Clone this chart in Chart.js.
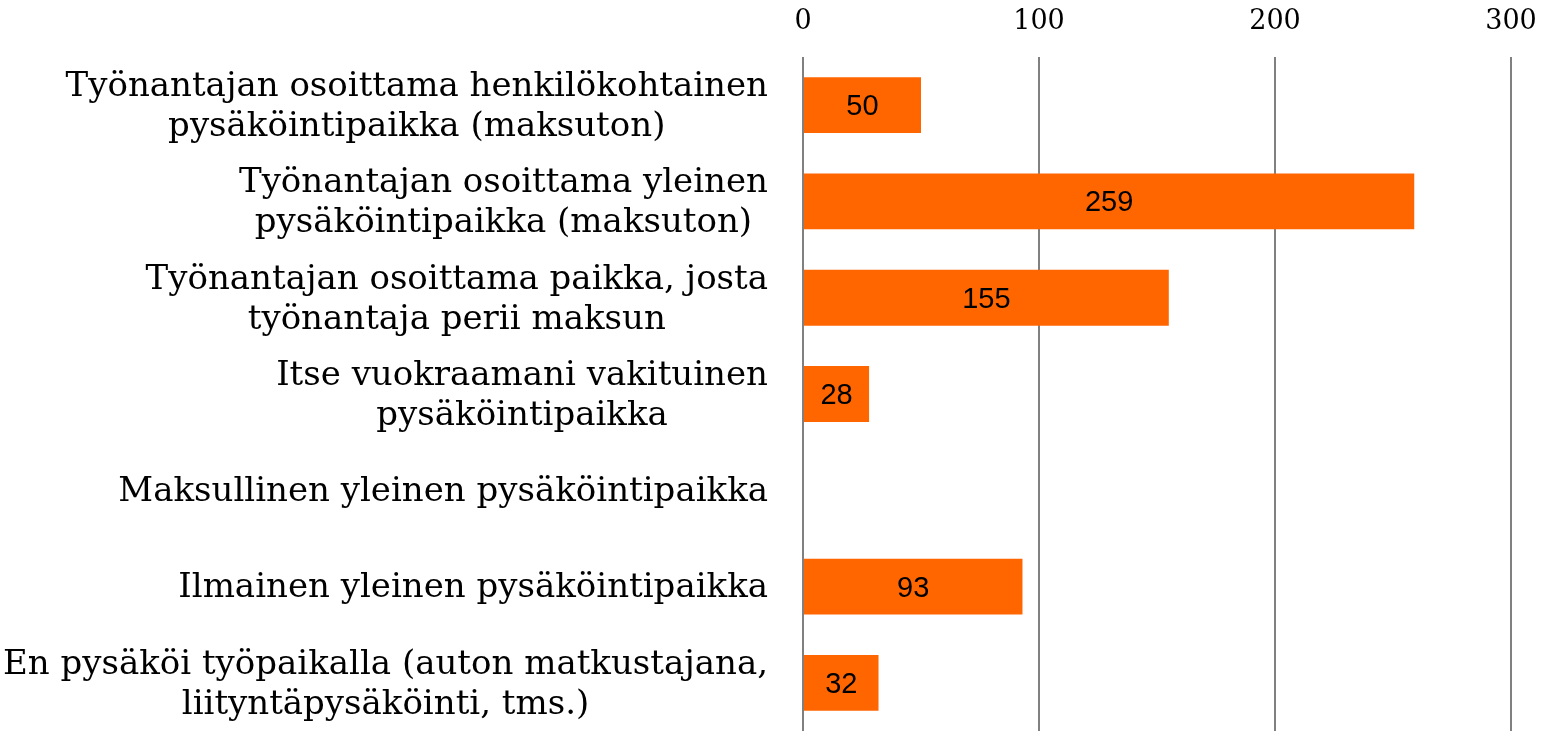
<!DOCTYPE html>
<html>
<head>
<meta charset="utf-8">
<script src="https://cdn.jsdelivr.net/npm/chart.js@4"></script>
<style>
  html, body { margin: 0; padding: 0; background: #fff; }
  #wrap { width: 1549px; height: 731px; }
</style>
</head>
<body>
<div id="wrap"><canvas id="chart" width="1549" height="731"></canvas></div>
<script>
const categories = [
  ['Työnantajan osoittama henkilökohtainen', 'pysäköintipaikka (maksuton)'],
  ['Työnantajan osoittama yleinen', 'pysäköintipaikka (maksuton)'],
  ['Työnantajan osoittama paikka, josta', 'työnantaja perii maksun'],
  ['Itse vuokraamani vakituinen', 'pysäköintipaikka'],
  ['Maksullinen yleinen pysäköintipaikka'],
  ['Ilmainen yleinen pysäköintipaikka'],
  ['En pysäköi työpaikalla (auton matkustajana,', 'liityntäpysäköinti, tms.)']
];
const answers = [50, 259, 155, 28, 0, 93, 32];
const tickValues = [0, 100, 200, 300];

const PLOT_LEFT = 803;
const PLOT_RIGHT_GAP = 38;
const AXIS_TOP = 57;
const LABEL_GAP = 35;
const LABEL_FONT = '34px "DejaVu Serif", serif';
const LINE_HEIGHT = 40;

// category labels: lines centred on each other, block right-aligned to the axis
const categoryLabels = {
  id: 'categoryLabels',
  afterDraw(chart) {
    const ctx = chart.ctx;
    const yScale = chart.scales.y;
    const right = yScale.right - LABEL_GAP;
    ctx.save();
    ctx.font = LABEL_FONT;
    ctx.fillStyle = '#000';
    ctx.textAlign = 'center';
    ctx.textBaseline = 'middle';
    categories.forEach((lines, i) => {
      const widest = Math.max(...lines.map((l) => ctx.measureText(l).width));
      const cx = right - widest / 2;
      const cy = yScale.getPixelForValue(i) + 2;
      const top = cy - ((lines.length - 1) * LINE_HEIGHT) / 2;
      lines.forEach((line, j) => ctx.fillText(line, cx, top + j * LINE_HEIGHT));
    });
    ctx.restore();
  }
};

const valueLabels = {
  id: 'valueLabels',
  afterDatasetsDraw(chart) {
    const ctx = chart.ctx;
    const meta = chart.getDatasetMeta(0);
    ctx.save();
    ctx.font = '29px "Liberation Sans", Arial, sans-serif';
    ctx.fillStyle = '#000';
    ctx.textAlign = 'center';
    ctx.textBaseline = 'middle';
    meta.data.forEach((bar, i) => {
      if (!answers[i]) return;
      ctx.fillText(String(answers[i]), (bar.x + bar.base) / 2, bar.y + 2);
    });
    ctx.restore();
  }
};

new Chart(document.getElementById('chart'), {
  type: 'bar',
  data: {
    labels: categories,
    datasets: [{
      data: answers,
      backgroundColor: '#ff6600',
      borderWidth: 0,
      categoryPercentage: 1,
      barPercentage: 0.58
    }]
  },
  plugins: [categoryLabels, valueLabels],
  options: {
    indexAxis: 'y',
    responsive: false,
    animation: false,
    layout: { padding: 0 },
    plugins: {
      legend: { display: false },
      tooltip: { enabled: false }
    },
    scales: {
      x: {
        position: 'top',
        min: 0,
        max: 300,
        afterBuildTicks(scale) {
          scale.ticks = tickValues.map((v) => ({ value: v }));
        },
        afterFit(scale) {
          scale.height = AXIS_TOP;
          scale.paddingLeft = 0;
          scale.paddingRight = PLOT_RIGHT_GAP;
        },
        grid: {
          color: '#808080',
          lineWidth: 2,
          drawTicks: false
        },
        border: { display: false },
        ticks: {
          color: '#000',
          padding: 19,
          font: { family: '"DejaVu Serif", serif', size: 27 }
        }
      },
      y: {
        afterFit(scale) {
          scale.width = PLOT_LEFT;
        },
        grid: { display: false },
        border: { display: false },
        ticks: { display: false }
      }
    }
  }
});
</script>
</body>
</html>
